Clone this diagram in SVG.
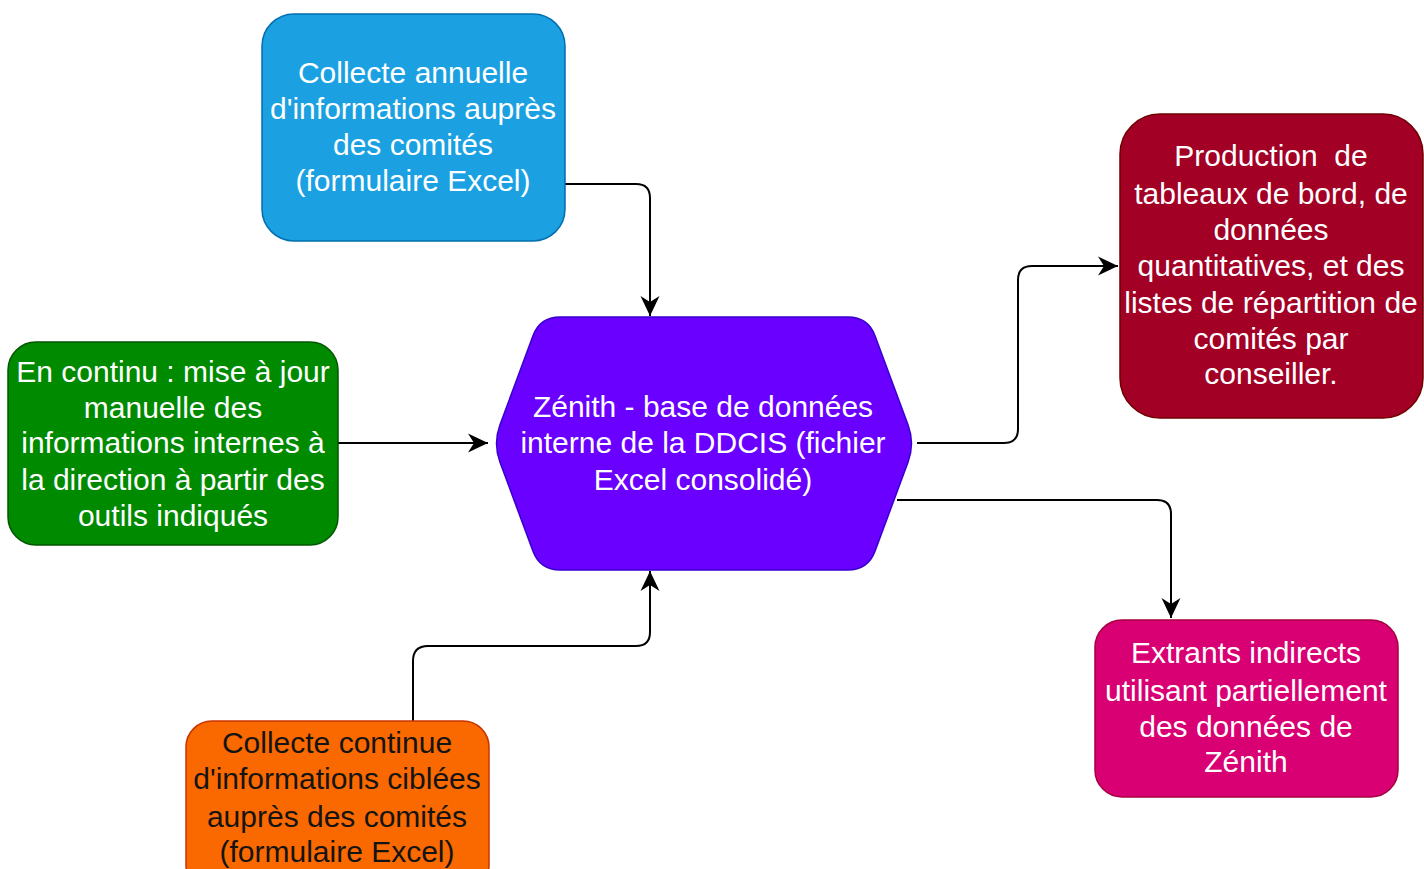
<svg xmlns="http://www.w3.org/2000/svg" width="1424" height="869" viewBox="0 0 1424 869">
<style>
.t{font-family:"Liberation Sans",Arial,sans-serif;font-size:30px;text-anchor:middle;fill:#ffffff;}
.dk{fill:#141414;}
.e{fill:none;stroke:#000000;stroke-width:2;}
.s{stroke-width:1.5;}
</style>
<defs>
<marker id="ah" markerUnits="userSpaceOnUse" markerWidth="22" markerHeight="22" viewBox="0 -11 22 22" refX="20" refY="0" orient="auto">
<path d="M0,-9.5 L20,0 L0,9.5 L6,0 Z" fill="#000000"/>
</marker>
</defs>
<rect width="1424" height="869" fill="#ffffff"/>
<g id="connectors">
<path class="e" d="M565,184 H636 Q650,184 650,198 V316" marker-end="url(#ah)"/>
<path class="e" d="M338,443 H488" marker-end="url(#ah)"/>
<path class="e" d="M413,721 V661 Q413,646 428,646 H636 Q650,646 650,632 V571" marker-end="url(#ah)"/>
<path class="e" d="M917,443 H1004 Q1018,443 1018,429 V280 Q1018,266 1032,266 H1118" marker-end="url(#ah)"/>
<path class="e" d="M897,500 H1157 Q1171,500 1171,514 V618" marker-end="url(#ah)"/>
</g>
<g id="n-blue">
<rect class="s" x="262" y="14" width="303" height="227" rx="32" ry="32" fill="#1BA1E2" stroke="#006EAF"/>
<text class="t" x="413" y="83">Collecte annuelle</text>
<text class="t" x="413" y="119">d'informations auprès</text>
<text class="t" x="413" y="155">des comités</text>
<text class="t" x="413" y="191">(formulaire Excel)</text>
</g>
<g id="n-zenith">
<path class="s" d="M560,317 L848,317 Q868,317 875,335.7 L908,424.8 Q915,443.5 908,462.2 L875,551.3 Q868,570 848,570 L560,570 Q540,570 533,551.3 L500,462.2 Q493,443.5 500,424.8 L533,335.7 Q540,317 560,317 Z" fill="#6A00FF" stroke="#3700CC"/>
<text class="t" x="703" y="417">Zénith - base de données</text>
<text class="t" x="703" y="453">interne de la DDCIS (fichier</text>
<text class="t" x="703" y="490">Excel consolidé)</text>
</g>
<g id="n-green">
<rect class="s" x="8" y="342" width="330" height="203" rx="28" ry="28" fill="#008A00" stroke="#005700"/>
<text class="t" x="173" y="382">En continu : mise à jour</text>
<text class="t" x="173" y="418">manuelle des</text>
<text class="t" x="173" y="453">informations internes à</text>
<text class="t" x="173" y="490">la direction à partir des</text>
<text class="t" x="173" y="526">outils indiqués</text>
</g>
<g id="n-red">
<rect class="s" x="1120" y="114" width="303" height="304" rx="40" ry="40" fill="#A20025" stroke="#6F0000"/>
<text class="t" x="1271" y="166" xml:space="preserve">Production  de</text>
<text class="t" x="1271" y="204">tableaux de bord, de</text>
<text class="t" x="1271" y="240">données</text>
<text class="t" x="1271" y="276">quantitatives, et des</text>
<text class="t" x="1271" y="313">listes de répartition de</text>
<text class="t" x="1271" y="349">comités par</text>
<text class="t" x="1271" y="384">conseiller.</text>
</g>
<g id="n-magenta">
<rect class="s" x="1095" y="620" width="303" height="177" rx="27" ry="27" fill="#D80073" stroke="#A50040"/>
<text class="t" x="1246" y="663">Extrants indirects</text>
<text class="t" x="1246" y="701">utilisant partiellement</text>
<text class="t" x="1246" y="737">des données de</text>
<text class="t" x="1246" y="772">Zénith</text>
</g>
<g id="n-orange">
<rect class="s" x="186" y="721" width="303" height="170" rx="26" ry="26" fill="#FA6800" stroke="#C73500"/>
<text class="t dk" x="337" y="753">Collecte continue</text>
<text class="t dk" x="337" y="789">d'informations ciblées</text>
<text class="t dk" x="337" y="827">auprès des comités</text>
<text class="t dk" x="337" y="862">(formulaire Excel)</text>
</g>
</svg>
